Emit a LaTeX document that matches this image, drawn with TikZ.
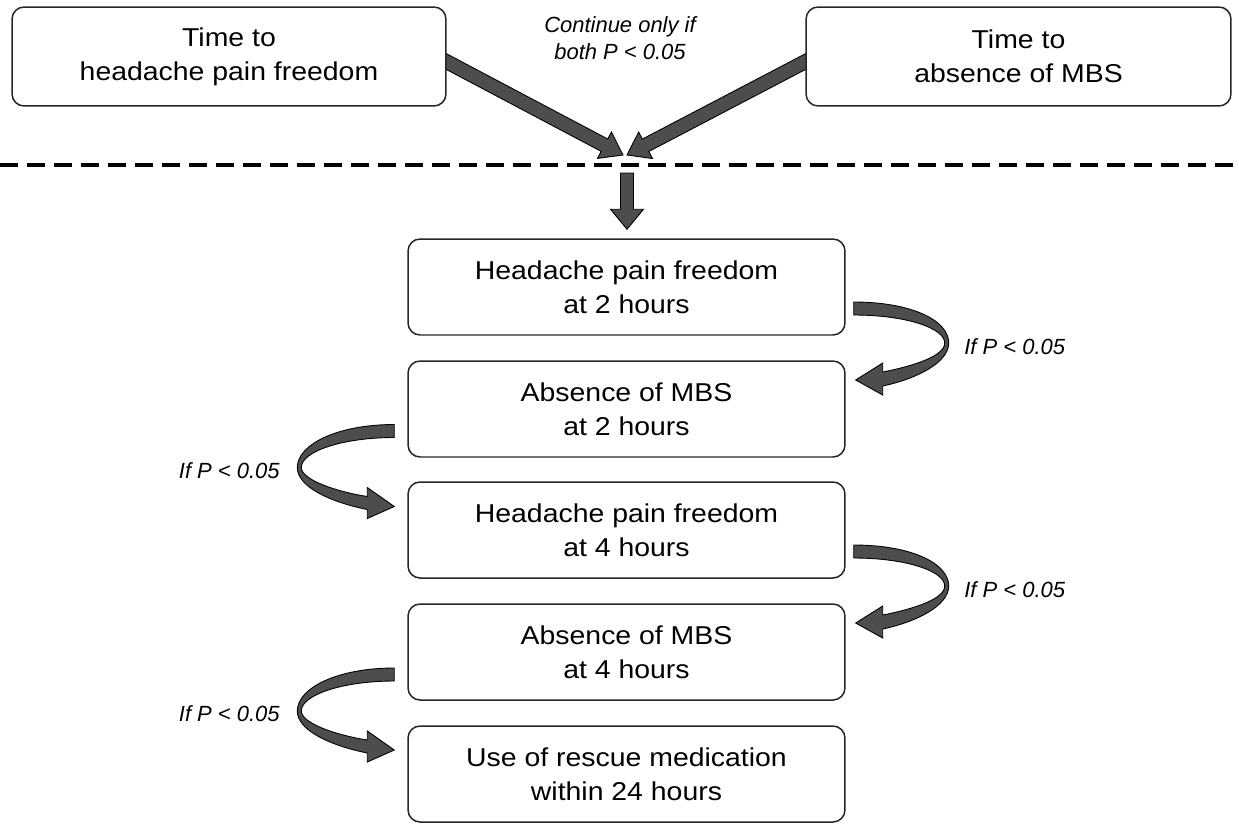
\documentclass[tikz,border=0pt]{standalone}
\usepackage{fontspec}
\setmainfont{Liberation Sans}
\newfontfamily\boxfont[FakeStretch=1.1]{Liberation Sans}
\usetikzlibrary{calc,backgrounds}
\definecolor{arrfill}{HTML}{4D4D4D}
\newcommand\fatarr[5]{%
  \path (#1) coordinate (fa-s) (#2) coordinate (fa-e);
  \path ($(fa-e)!#5!(fa-s)$) coordinate (fa-h);
  \filldraw[fatstyle] ($(fa-s)!#3!90:(fa-e)$) -- ($(fa-h)!#3!90:(fa-e)$) -- ($(fa-h)!#4!90:(fa-e)$) -- (fa-e)
   -- ($(fa-h)!#4!-90:(fa-e)$) -- ($(fa-h)!#3!-90:(fa-e)$) -- ($(fa-s)!#3!-90:(fa-e)$) -- cycle;}
\newcommand\rcurl[1]{%
  \begin{scope}[shift={(#1)}]
  \filldraw[fatstyle] (8,-46) .. controls (65,-46) and (103,-28) .. (103,-5)
   .. controls (103,15) and (70,31) .. (37,38)
   -- (37,47) -- (10,32) -- (37,15) -- (37,24)
   .. controls (68,18) and (99,8) .. (99,-5)
   .. controls (99,-20) and (60,-33) .. (8,-33) -- cycle;
  \end{scope}}
\newcommand\lcurl[1]{%
  \begin{scope}[shift={(#1)}]
  \filldraw[fatstyle] (-13,-45) .. controls (-70,-45) and (-110,-25) .. (-110,-2)
   .. controls (-110,18) and (-75,33) .. (-40,40)
   -- (-40,49) -- (-13,37) -- (-40,18) -- (-40,27)
   .. controls (-72,22) and (-106,10) .. (-106,-2)
   .. controls (-106,-18) and (-65,-32) .. (-13,-32) -- cycle;
  \end{scope}}
\begin{document}
\begin{tikzpicture}[x=0.02cm,y=-0.02cm,
  box/.style={draw=black!85, line width=0.85pt, rounded corners=0.24cm, fill=white,
    align=center, inner sep=0pt, font=\boxfont\fontsize{14.7}{19.2}\selectfont,
    minimum width=8.74cm, minimum height=1.92cm},
  lab/.style={align=center, inner sep=0pt, font=\itshape\fontsize{12.5}{15.3}\selectfont},
  fatstyle/.style={fill=arrfill, draw=black, line width=0.5pt, line join=miter},
  dashline/.style={line width=2.2pt, dash pattern=on 0.36cm off 0.18cm}]
\useasboundingbox (0,0) rectangle (1239,825);
\node[box, minimum width=8.68cm, minimum height=1.98cm] (tl) at (229,56.5) {Time to\\headache pain freedom};
\node[box, minimum width=8.5cm, minimum height=1.98cm] (tr) at (1018.5,56.5) {Time to\\absence of MBS};
\node[lab] (cont) at (620,38.5) {Continue only if\\both P < 0.05};
\coordinate (tipl) at (623,155);
\coordinate (tipr) at (627,155);
\begin{pgfonlayer}{background}
\fatarr{$(tl.east)+(-8,1)$}{tipl}{0.14cm}{0.30cm}{0.42cm}
\fatarr{$(tr.west)+(8,1)$}{tipr}{0.14cm}{0.30cm}{0.42cm}
\end{pgfonlayer}
\coordinate (dl) at (0,165);
\coordinate (dr) at (1239,165);
\draw[dashline] (dl) -- (dr);
\node[box] (b1) at (626.5,287) {Headache pain freedom\\at 2 hours};
\node[box] (b2) at (626.5,409) {Absence of MBS\\at 2 hours};
\node[box] (b3) at (626.5,530) {Headache pain freedom\\at 4 hours};
\node[box] (b4) at (626.5,652) {Absence of MBS\\at 4 hours};
\node[box] (b5) at (626.5,774) {Use of rescue medication\\within 24 hours};
\coordinate (ds) at (627,173);
\fatarr{ds}{$(b1.north)+(0.5,-9)$}{0.13cm}{0.33cm}{0.40cm}
\coordinate (r1) at ($(b1.south east)!0.5!(b2.north east)$);
\coordinate (r2) at ($(b3.south east)!0.5!(b4.north east)$);
\coordinate (l1) at ($(b2.south west)!0.5!(b3.north west)$);
\coordinate (l2) at ($(b4.south west)!0.5!(b5.north west)$);
\rcurl{r1}
\rcurl{r2}
\lcurl{l1}
\lcurl{l2}
\node[lab] (t1) at ($(r1)+(169,-1)$) {If P < 0.05};
\node[lab] (t2) at ($(r2)+(169,-1)$) {If P < 0.05};
\node[lab] (t3) at ($(l1)+(-178,1)$) {If P < 0.05};
\node[lab] (t4) at ($(l2)+(-178,1)$) {If P < 0.05};
\end{tikzpicture}
\end{document}
